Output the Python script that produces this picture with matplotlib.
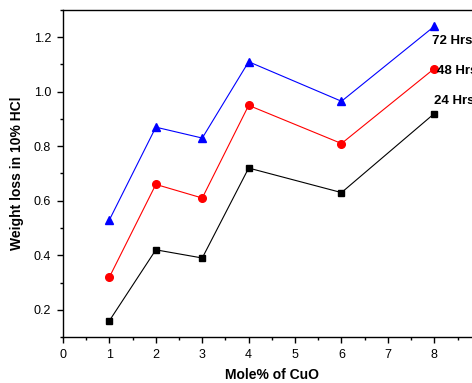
import matplotlib.pyplot as plt
from matplotlib.ticker import MultipleLocator, FormatStrFormatter

plt.rcParams['font.family'] = ['Liberation Sans', 'DejaVu Sans']

# Mole% of CuO and weight loss for each immersion time
mole = [1, 2, 3, 4, 6, 8]
loss_24 = [0.16, 0.42, 0.39, 0.72, 0.63, 0.92]
loss_48 = [0.32, 0.66, 0.61, 0.95, 0.81, 1.085]
loss_72 = [0.53, 0.87, 0.83, 1.11, 0.965, 1.24]

fig = plt.figure(figsize=(4.72, 3.83), dpi=100)
ax = fig.add_axes([0.1335, 0.120, 0.885, 0.854])

ax.plot(mole, loss_24, color='black', marker='s', markersize=5, linewidth=0.8)
ax.plot(mole, loss_48, color='red', marker='o', markersize=5.5, linewidth=0.8)
ax.plot(mole, loss_72, color='blue', marker='^', markersize=6, linewidth=0.8)

# series labels next to the last points
ax.text(7.95, 1.185, '72 Hrs', fontsize=9.5, fontweight='bold', va='center')
ax.text(8.06, 1.075, '48 Hrs', fontsize=9.5, fontweight='bold', va='center')
ax.text(7.99, 0.965, '24 Hrs', fontsize=9.5, fontweight='bold', va='center')

ax.set_xlim(0, 9)
ax.set_ylim(0.1, 1.3)
ax.set_xticks(range(0, 9))
ax.xaxis.set_minor_locator(MultipleLocator(0.5))
ax.yaxis.set_major_locator(MultipleLocator(0.2))
ax.yaxis.set_minor_locator(MultipleLocator(0.1))
ax.yaxis.set_major_formatter(FormatStrFormatter('%.1f'))
ax.tick_params(which='both', direction='out', labelsize=9, width=1)
ax.tick_params(which='major', length=4, pad=4.5)
ax.tick_params(which='minor', length=2.5)
for s in ax.spines.values():
    s.set_linewidth(1)

ax.set_xlabel('Mole% of CuO', fontsize=10, fontweight='bold', labelpad=5)
ax.set_ylabel('Weight loss in 10% HCl', fontsize=10, fontweight='bold', labelpad=7)

fig.savefig('out.png', dpi=100)
